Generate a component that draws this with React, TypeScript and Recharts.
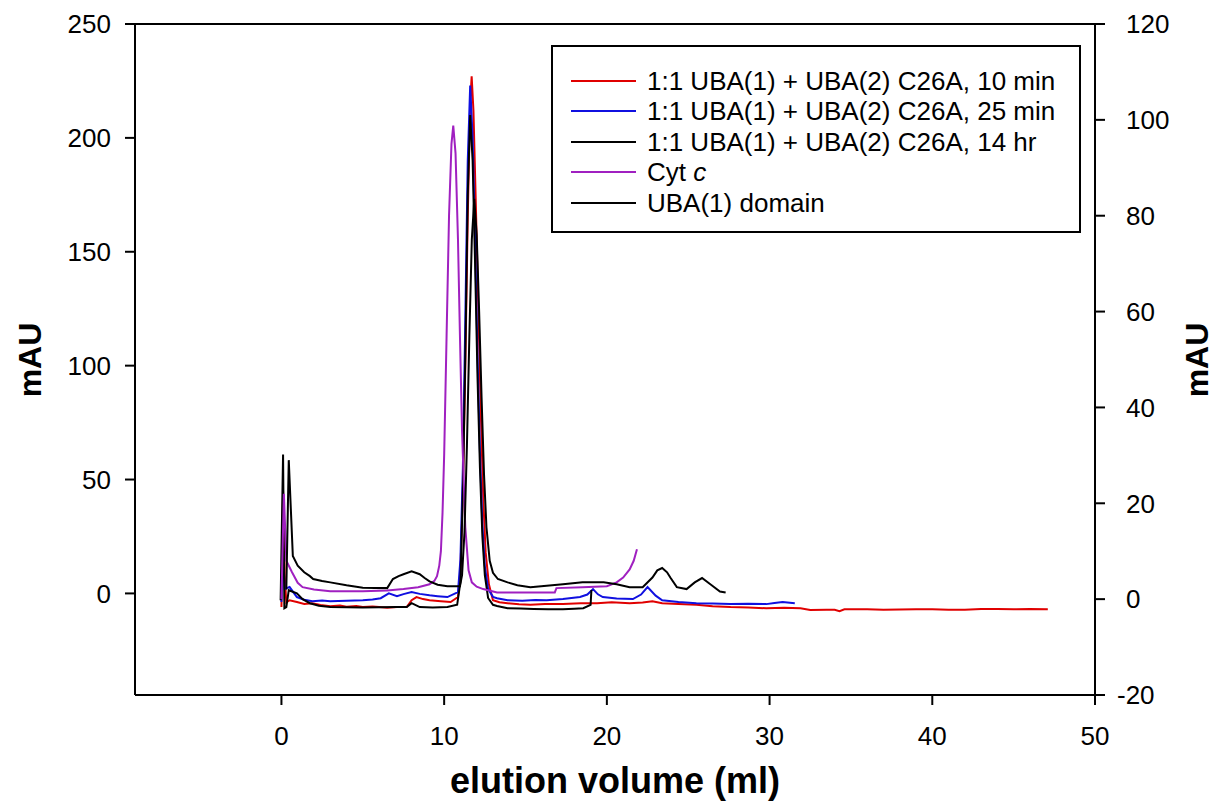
import { LineChart, Line, XAxis, YAxis, ReferenceLine } from "recharts";

const FONT = "'Liberation Sans', Arial, sans-serif";

const xTicks = [0, 10, 20, 30, 40, 50];
const leftTicks = [0, 50, 100, 150, 200, 250];
const rightTicks = [-20, 0, 20, 40, 60, 80, 100, 120];

// [elution volume (ml), mAU]
// left axis
const uba10min: [number, number][] = [
  [0, -6], [0.1, 45], [0.2, 8], [0.3, -4], [0.5, -3], [0.95, -3.8], [1.4, -4.6], [1.9, -4.3], [2.4, -5.1],
  [3.0, -5.6], [3.6, -5.3], [4.0, -5.8], [4.6, -5.5], [5.0, -6], [5.6, -5.7], [6.0, -6], [6.5, -6.3],
  [7.1, -6], [7.7, -6], [8.0, -3], [8.3, -1.6], [8.7, -2.5], [9.1, -3], [9.8, -3.4], [10.4, -3.8],
  [10.85, -1.6], [11.0, 10], [11.15, 45], [11.3, 100], [11.45, 165], [11.6, 215],
  [11.69, 227], [11.8, 212], [11.95, 170], [12.1, 125], [12.25, 80], [12.4, 42], [12.55, 18],
  [12.75, 4], [13.0, -3], [13.4, -3.9], [13.9, -4.3], [14.6, -4.8], [15.3, -5], [16.2, -4.6],
  [17.3, -4.7], [18.4, -4.3], [19.4, -4.3], [20.3, -3.9], [21.4, -4.3], [22.2, -4.0], [22.8, -3.4],
  [23.4, -4.3], [24.4, -4.6], [25.5, -5], [26.5, -5.6], [27.6, -6], [28.7, -6.2], [29.8, -6.5],
  [30.9, -6.3], [31.9, -6.5], [32.5, -7.3], [33.5, -7.2], [34.0, -7.2], [34.3, -7.8], [34.6, -7.0],
  [36.0, -6.9], [37.0, -7.2], [38.0, -7.1], [39.0, -6.9], [40.0, -6.9], [41.0, -7.2], [42.0, -7.2],
  [43.0, -6.8], [44.0, -6.8], [45.0, -7.0], [46.0, -6.8], [47.1, -6.9],
];

const uba25min: [number, number][] = [
  [0, -3.8], [0.1, 18], [0.2, 2], [0.5, 2.8], [0.95, -1.6], [1.4, -2.8], [1.9, -3.4], [2.5, -3.1],
  [3.0, -3.4], [4.0, -3.2], [5.0, -3], [5.6, -2.7], [6.1, -2.1], [6.6, 0], [7.1, -1.2], [7.5, -0.3],
  [8.0, 0.6], [8.5, -0.2], [9.1, -0.8], [9.6, -1.2], [10.2, -1.6], [10.85, 0.6],
  [11.0, 15], [11.15, 55], [11.3, 120], [11.45, 190], [11.6, 223], [11.75, 200], [11.9, 155],
  [12.05, 105], [12.2, 62], [12.35, 30], [12.5, 12], [12.7, 2], [13.0, -1.5], [13.25, -2.1],
  [13.9, -3], [14.8, -3.2], [15.6, -2.9], [16.3, -3], [17.3, -2.4], [18.35, -1.6], [18.8, -0.5],
  [19.15, 1.9], [19.45, -0.4], [19.75, -1.6], [20.6, -2.2], [21.6, -2.5], [22.1, -0.5], [22.5, 2.8],
  [23.0, -1], [23.4, -3], [24.4, -3.8], [25.5, -4.3], [26.5, -4.4], [27.6, -4.7], [28.7, -4.5],
  [29.8, -4.7], [30.3, -4.2], [30.8, -3.8], [31.55, -4.3],
];

const uba14hr: [number, number][] = [
  [-0.05, -3], [0.1, 61], [0.18, -6.5], [0.3, -6], [0.45, 1.4], [0.95, 0], [1.3, -2.5], [1.75, -4.3],
  [2.3, -5.4], [3.0, -6], [4.0, -6.1], [5.0, -6.2], [6.0, -6.1], [7.1, -6], [7.7, -6], [8.0, -4.3],
  [8.5, -6], [9.3, -6.2], [10.2, -6], [10.8, -5], [11.0, 5],
  [11.15, 45], [11.3, 105], [11.45, 175], [11.6, 210], [11.75, 190], [11.9, 145], [12.05, 95],
  [12.2, 55], [12.35, 25], [12.5, 8], [12.7, -2], [13.0, -5], [13.25, -5.5], [13.9, -6.5],
  [14.7, -6.6], [15.5, -6.8], [16.4, -6.9], [17.3, -7], [18.0, -6.7], [18.55, -6.5], [19.0, -5],
  [19.05, 1.5],
];

// right axis
const cytC: [number, number][] = [
  [0, 0], [0.15, 22], [0.3, 8], [0.65, 5.6], [1.0, 3.4], [1.3, 2.5], [2.0, 2.0], [3.0, 1.65],
  [5.0, 1.65], [6.5, 1.8], [7.5, 2.1], [8.4, 2.5], [9.1, 3.1], [9.4, 3.8], [9.56, 4.8], [9.7, 7],
  [9.8, 10], [9.9, 18], [10.0, 30], [10.15, 55], [10.3, 80], [10.45, 95], [10.56, 98.8], [10.7, 93],
  [10.85, 75], [10.97, 55], [11.1, 35], [11.3, 15], [11.5, 6], [11.7, 3.5], [12.0, 2.6], [12.4, 2.1],
  [13.25, 1.4], [15.0, 1.4], [16.8, 1.4], [16.9, 2.3], [18.5, 2.5], [20.0, 2.7], [20.6, 3.5],
  [21.0, 4.5], [21.4, 6.2], [21.65, 8], [21.85, 10.4],
];

const uba1Domain: [number, number][] = [
  [0.3, 2], [0.45, 29], [0.7, 9], [1.0, 7], [1.4, 5.6], [1.75, 4.8], [1.95, 4.2], [2.5, 3.8],
  [3.0, 3.5], [4.0, 2.9], [5.0, 2.4], [6.5, 2.3], [6.85, 4.2], [7.2, 4.8], [7.5, 5.2], [8.0, 5.8],
  [8.5, 5.2], [8.8, 4.4], [9.1, 3.7], [9.6, 3.0], [10.2, 2.7], [10.97, 2.7], [11.1, 5],
  [11.25, 14], [11.4, 32], [11.55, 55], [11.7, 75], [11.85, 83.5], [12.0, 76], [12.15, 60],
  [12.3, 42], [12.45, 26], [12.6, 15], [12.8, 8], [13.0, 5.5], [13.3, 4.2], [13.9, 3.5],
  [14.5, 2.9], [15.3, 2.5], [16.3, 2.8], [17.3, 3.1], [18.5, 3.5], [19.8, 3.5], [20.6, 3.1],
  [21.4, 2.5], [22.2, 2.5], [22.8, 4.5], [23.1, 6], [23.4, 6.5], [23.7, 5.6], [23.9, 4.5],
  [24.3, 2.5], [24.9, 2.1], [25.4, 3.5], [25.85, 4.4], [26.4, 3], [26.95, 1.6], [27.3, 1.4],
];

const toPoints = (pairs: [number, number][]) => pairs.map(([x, y]) => ({ x, y }));

const series = [
  { key: "10min", label: "1:1 UBA(1) + UBA(2) C26A, 10 min", color: "#e00000", axis: "left", data: uba10min },
  { key: "25min", label: "1:1 UBA(1) + UBA(2) C26A, 25 min", color: "#1010e0", axis: "left", data: uba25min },
  { key: "14hr", label: "1:1 UBA(1) + UBA(2) C26A, 14 hr", color: "#000000", axis: "left", data: uba14hr },
  { key: "cyt", label: "Cyt c", color: "#a020c0", axis: "right", data: cytC },
  { key: "uba1", label: "UBA(1) domain", color: "#000000", axis: "right", data: uba1Domain },
];

const axisStroke = { stroke: "#000", strokeWidth: 2 };
const tickStyle = { fill: "#000", fontSize: 26, fontFamily: FONT };

function RightTick(props: any) {
  const { x, y, payload } = props;
  const shift = payload.value < 0 ? 9 : 0;
  return (
    <text x={x - shift} y={y} dy="0.355em" textAnchor="start" fill="#000" fontSize={26} fontFamily={FONT}>
      {payload.value}
    </text>
  );
}

function LegendBox() {
  return (
    <div
      style={{
        position: "absolute",
        left: 551,
        top: 45,
        width: 530,
        height: 188,
        border: "2px solid #000",
        boxSizing: "border-box",
        background: "#fff",
        fontFamily: FONT,
        fontSize: 26,
      }}
    >
      {series.map((s, i) => (
        <div key={s.key} style={{ position: "absolute", left: 18, top: 19 + i * 30.4, height: 30, display: "flex", alignItems: "center" }}>
          <div style={{ width: 65, height: 2, background: s.color }} />
          <span style={{ marginLeft: 11, whiteSpace: "nowrap", lineHeight: "30px" }}>
            {s.key === "cyt" ? (
              <>
                Cyt <i>c</i>
              </>
            ) : (
              s.label
            )}
          </span>
        </div>
      ))}
    </div>
  );
}

const titleStyle = {
  position: "absolute" as const,
  fontFamily: FONT,
  fontWeight: "bold" as const,
  whiteSpace: "nowrap" as const,
};

export default function App() {
  return (
    <div style={{ position: "absolute", left: 0, top: 0, width: 1222, height: 809, background: "#fff" }}>
      <LineChart width={1222} height={809} margin={{ top: 24, right: 67, bottom: 74, left: 75 }}>
        <XAxis
          dataKey="x"
          type="number"
          domain={[-9, 50]}
          ticks={xTicks}
          allowDataOverflow
          height={40}
          axisLine={axisStroke}
          tickLine={axisStroke}
          tickSize={10}
          tickMargin={22}
          tick={tickStyle}
        />
        <YAxis
          yAxisId="left"
          type="number"
          domain={[-44.6, 250]}
          ticks={leftTicks}
          allowDataOverflow
          width={60}
          axisLine={axisStroke}
          tickLine={axisStroke}
          tickSize={10}
          tickMargin={14}
          tick={tickStyle}
        />
        <YAxis
          yAxisId="right"
          orientation="right"
          type="number"
          domain={[-20, 120]}
          ticks={rightTicks}
          allowDataOverflow
          width={60}
          axisLine={axisStroke}
          tickLine={axisStroke}
          tickSize={10}
          tickMargin={21}
          tick={<RightTick />}
        />
        <ReferenceLine yAxisId="left" y={250} stroke="#000" strokeWidth={2} />
        {series.map((s) => (
          <Line
            key={s.key}
            data={toPoints(s.data)}
            dataKey="y"
            yAxisId={s.axis}
            type="linear"
            stroke={s.color}
            strokeWidth={2}
            dot={false}
            activeDot={false}
            isAnimationActive={false}
          />
        ))}
      </LineChart>
      <LegendBox />
      <div style={{ ...titleStyle, left: 30, top: 360, fontSize: 32, transform: "translate(-50%, -50%) rotate(-90deg)" }}>
        mAU
      </div>
      <div style={{ ...titleStyle, left: 1197, top: 360, fontSize: 32, transform: "translate(-50%, -50%) rotate(-90deg)" }}>
        mAU
      </div>
      <div style={{ ...titleStyle, left: 615, top: 781, fontSize: 36, transform: "translate(-50%, -50%)" }}>
        elution volume (ml)
      </div>
    </div>
  );
}
